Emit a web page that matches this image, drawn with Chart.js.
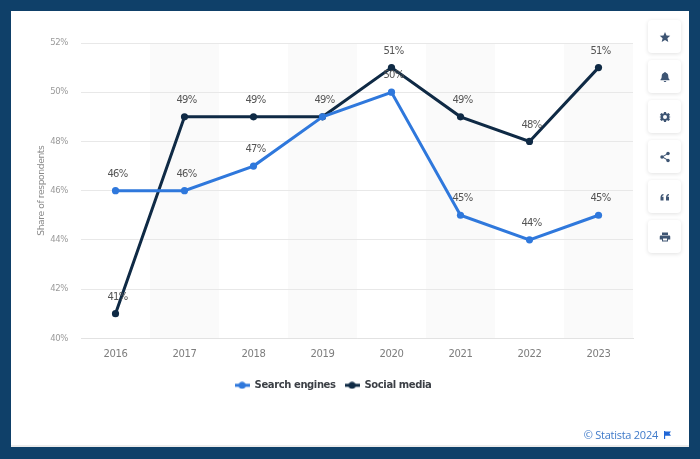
<!DOCTYPE html>
<html>
<head>
<meta charset="utf-8">
<script src="https://cdn.jsdelivr.net/npm/chart.js@4"></script>
<style>
    html, body { margin: 0; padding: 0; width: 700px; height: 459px; overflow: hidden; background: #0f4069; }
    #card { position: absolute; left: 11px; top: 11px; width: 678px; height: 436px; background: #fff; box-shadow: inset 0 -2px 0 #ececec; }
    #wrap { position: absolute; left: 0; top: 0; width: 700px; height: 459px; }
    .btn { position: absolute; left: 648px; width: 33px; height: 33px; background: #fff; border-radius: 4px; box-shadow: 0 1px 4px rgba(0, 0, 0, 0.12); }
    .btn svg { position: absolute; left: 10.5px; top: 10.5px; width: 12px; height: 12px; fill: #3e5573; }
    #credit { position: absolute; right: 42px; top: 427px; font: 11px "Open Sans", sans-serif; letter-spacing: -0.25px; color: #3f7ac9; line-height: 15px; white-space: nowrap; }
    #flag { position: absolute; left: 664px; top: 431px; width: 7px; height: 8px; fill: #1f66d6; }
</style>
</head>
<body>
<div id="card"></div>
<div id="wrap"><canvas id="chart-1" width="700" height="459"></canvas></div>

<div class="btn" style="top:20px"><svg viewBox="0 0 24 24"><path d="M12 2l3 7 7.500.6-5.700 4.900 1.800 7.300L12 18l-6.600 3.800 1.800-7.300L1.500 9.600 9 9z"/></svg></div>
<div class="btn" style="top:60px"><svg viewBox="0 0 24 24"><path d="M12 2c1 0 1.800.8 1.800 1.700C17 4.500 18.500 7 18.500 10c0 4 1 5.500 2.500 7v1.500H3V17c1.500-1.500 2.500-3 2.500-7 0-3 1.500-5.500 4.700-6.300C10.200 2.800 11 2 12 2zM9.500 20h5c0 1.300-1.100 2-2.500 2s-2.500-.7-2.500-2z"/></svg></div>
<div class="btn" style="top:100px"><svg viewBox="0 0 24 24"><path fill-rule="evenodd" d="M10 2h4l.6 2.900 1.900.8L19 4.100 21.900 7l-1.600 2.500.8 1.900L24 12v0l-2.900.6-.8 1.900 1.600 2.500L19 19.900l-2.500-1.600-1.900.8L14 22h-4l-.6-2.900-1.900-.8L5 19.900 2.100 17l1.600-2.500-.8-1.900L0 12v0l2.900-.6.8-1.900L2.100 7 5 4.100l2.500 1.600 1.900-.8zM12 8a4 4 0 100 8 4 4 0 000-8z"/></svg></div>
<div class="btn" style="top:140px"><svg viewBox="0 0 24 24"><circle cx="18" cy="5" r="3.500"/><circle cx="6" cy="12" r="3.500"/><circle cx="18" cy="19" r="3.500"/><path d="M6 11l12-7 1 1.700-12 7zM7 11l12 7-1 1.700-12-7z"/></svg></div>
<div class="btn" style="top:180px"><svg viewBox="0 0 24 24"><path d="M3 19v-6c0-4 2-6.500 6-7v2.500c-1.800.4-2.800 1.500-3 3h3V19zM14 19v-6c0-4 2-6.500 6-7v2.500c-1.800.4-2.800 1.500-3 3h3V19z"/></svg></div>
<div class="btn" style="top:220px"><svg viewBox="0 0 24 24"><path fill-rule="evenodd" d="M6 3h12v5H6zM4 9h16c1.500 0 2.500 1 2.500 2.500V17H18v4H6v-4H1.500v-5.500C1.500 10 2.500 9 4 9zM8 15v4h8v-4z"/></svg></div>

<div id="credit">© Statista 2024</div>
<svg id="flag" viewBox="0 0 9 10"><path d="M0 0h1.500v10H0zM1.500 .5H9L7 3.200 9 6H1.500z"/></svg>

<script>
const years = ['2016', '2017', '2018', '2019', '2020', '2021', '2022', '2023'];
const searchEngines = [46, 46, 47, 49, 50, 45, 44, 45];
const socialMedia = [41, 49, 49, 49, 51, 49, 48, 51];
const blue = '#2f78dc';
const navy = '#0f2a45';

// little line-with-dot swatch for the legend
function legendMark(color) {
    const c = document.createElement('canvas');
    c.width = 15;
    c.height = 8;
    const g = c.getContext('2d');
    g.fillStyle = color;
    g.fillRect(0, 2.5, 15, 3);
    g.beginPath();
    g.arc(7.5, 4, 3.5, 0, Math.PI * 2);
    g.fill();
    return c;
}

// the original text is a bit narrower than plain DejaVu
const tightText = {
    id: 'tightText',
    beforeUpdate(chart) { chart.ctx.letterSpacing = '-0.4px'; },
    beforeDraw(chart) { chart.ctx.letterSpacing = '-0.4px'; },
};

// grey stripes behind every second year
const bands = {
    id: 'bands',
    beforeDraw(chart) {
        const { ctx, chartArea, scales } = chart;
        const w = scales.x.getPixelForValue(1) - scales.x.getPixelForValue(0);
        ctx.save();
        ctx.fillStyle = '#fafafa';
        years.forEach((y, i) => {
            if (i % 2 === 1) {
                ctx.fillRect(scales.x.getPixelForValue(i) - w / 2, chartArea.top, w, chartArea.height);
            }
        });
        ctx.restore();
    },
};

// value labels above the points, equal values in one year only once
const valueLabels = {
    id: 'valueLabels',
    afterDatasetsDraw(chart) {
        const ctx = chart.ctx;
        const done = new Set();
        ctx.save();
        ctx.font = '10px "DejaVu Sans"';
        ctx.letterSpacing = '-0.7px';
        ctx.fillStyle = '#555555';
        ctx.textAlign = 'center';
        ctx.textBaseline = 'middle';
        chart.data.datasets.forEach((ds, i) => {
            chart.getDatasetMeta(i).data.forEach((pt, j) => {
                const key = j + '-' + ds.data[j];
                if (!done.has(key)) {
                    done.add(key);
                    ctx.fillText(ds.data[j] + '%', pt.x + 2, pt.y - 16.5);
                }
            });
        });
        ctx.restore();
    },
};

const ctx1 = document.getElementById('chart-1').getContext('2d');
const myChart = new Chart(ctx1, {
    type: 'line',
    data: {
        labels: years,
        datasets: [
            {
                label: 'Search engines',
                data: searchEngines,
                borderColor: blue,
                backgroundColor: blue,
                borderWidth: 3,
                pointRadius: 3.6,
                pointBorderWidth: 0,
                pointHoverRadius: 3.6,
                tension: 0,
                fill: false,
            },
            {
                label: 'Social media',
                data: socialMedia,
                borderColor: navy,
                backgroundColor: navy,
                borderWidth: 3,
                pointRadius: 3.6,
                pointBorderWidth: 0,
                pointHoverRadius: 3.6,
                tension: 0,
                fill: false,
            },
        ],
    },
    options: {
        responsive: false,
        animation: false,
        layout: { padding: { top: 43, left: 33, right: 67, bottom: 58.7 } },
        scales: {
            x: {
                offset: true,
                afterFit: (s) => { s.height = 33; },
                grid: { display: false },
                border: { color: '#e2e2e2' },
                ticks: { color: '#7d7d7d', font: { family: 'DejaVu Sans', size: 10 }, padding: 2, maxRotation: 0 },
            },
            y: {
                min: 40,
                max: 52,
                afterFit: (s) => { s.width = 48; },
                grid: { color: '#e8e8e8', drawTicks: false },
                border: { display: false },
                title: {
                    display: true,
                    text: 'Share of respondents',
                    color: '#8a8a8a',
                    font: { family: 'DejaVu Sans', size: 9.2 },
                    padding: { top: 3, bottom: 0 },
                },
                ticks: {
                    stepSize: 2,
                    color: '#9a9a9a',
                    font: { family: 'DejaVu Sans', size: 8.5 },
                    padding: 13,
                    callback: (v) => v + '%',
                },
            },
        },
        plugins: {
            tooltip: { enabled: false },
            legend: {
                position: 'bottom',
                labels: {
                    usePointStyle: true,
                    pointStyleWidth: 15,
                    color: '#3b3f45',
                    padding: 9,
                    font: { family: 'DejaVu Sans', size: 10, weight: 'bold' },
                    generateLabels(chart) {
                        return Chart.defaults.plugins.legend.labels.generateLabels(chart).map((item, i) => {
                            item.pointStyle = legendMark(i === 0 ? blue : navy);
                            return item;
                        });
                    },
                },
            },
        },
    },
    plugins: [tightText, bands, valueLabels],
});
</script>
</body>
</html>
